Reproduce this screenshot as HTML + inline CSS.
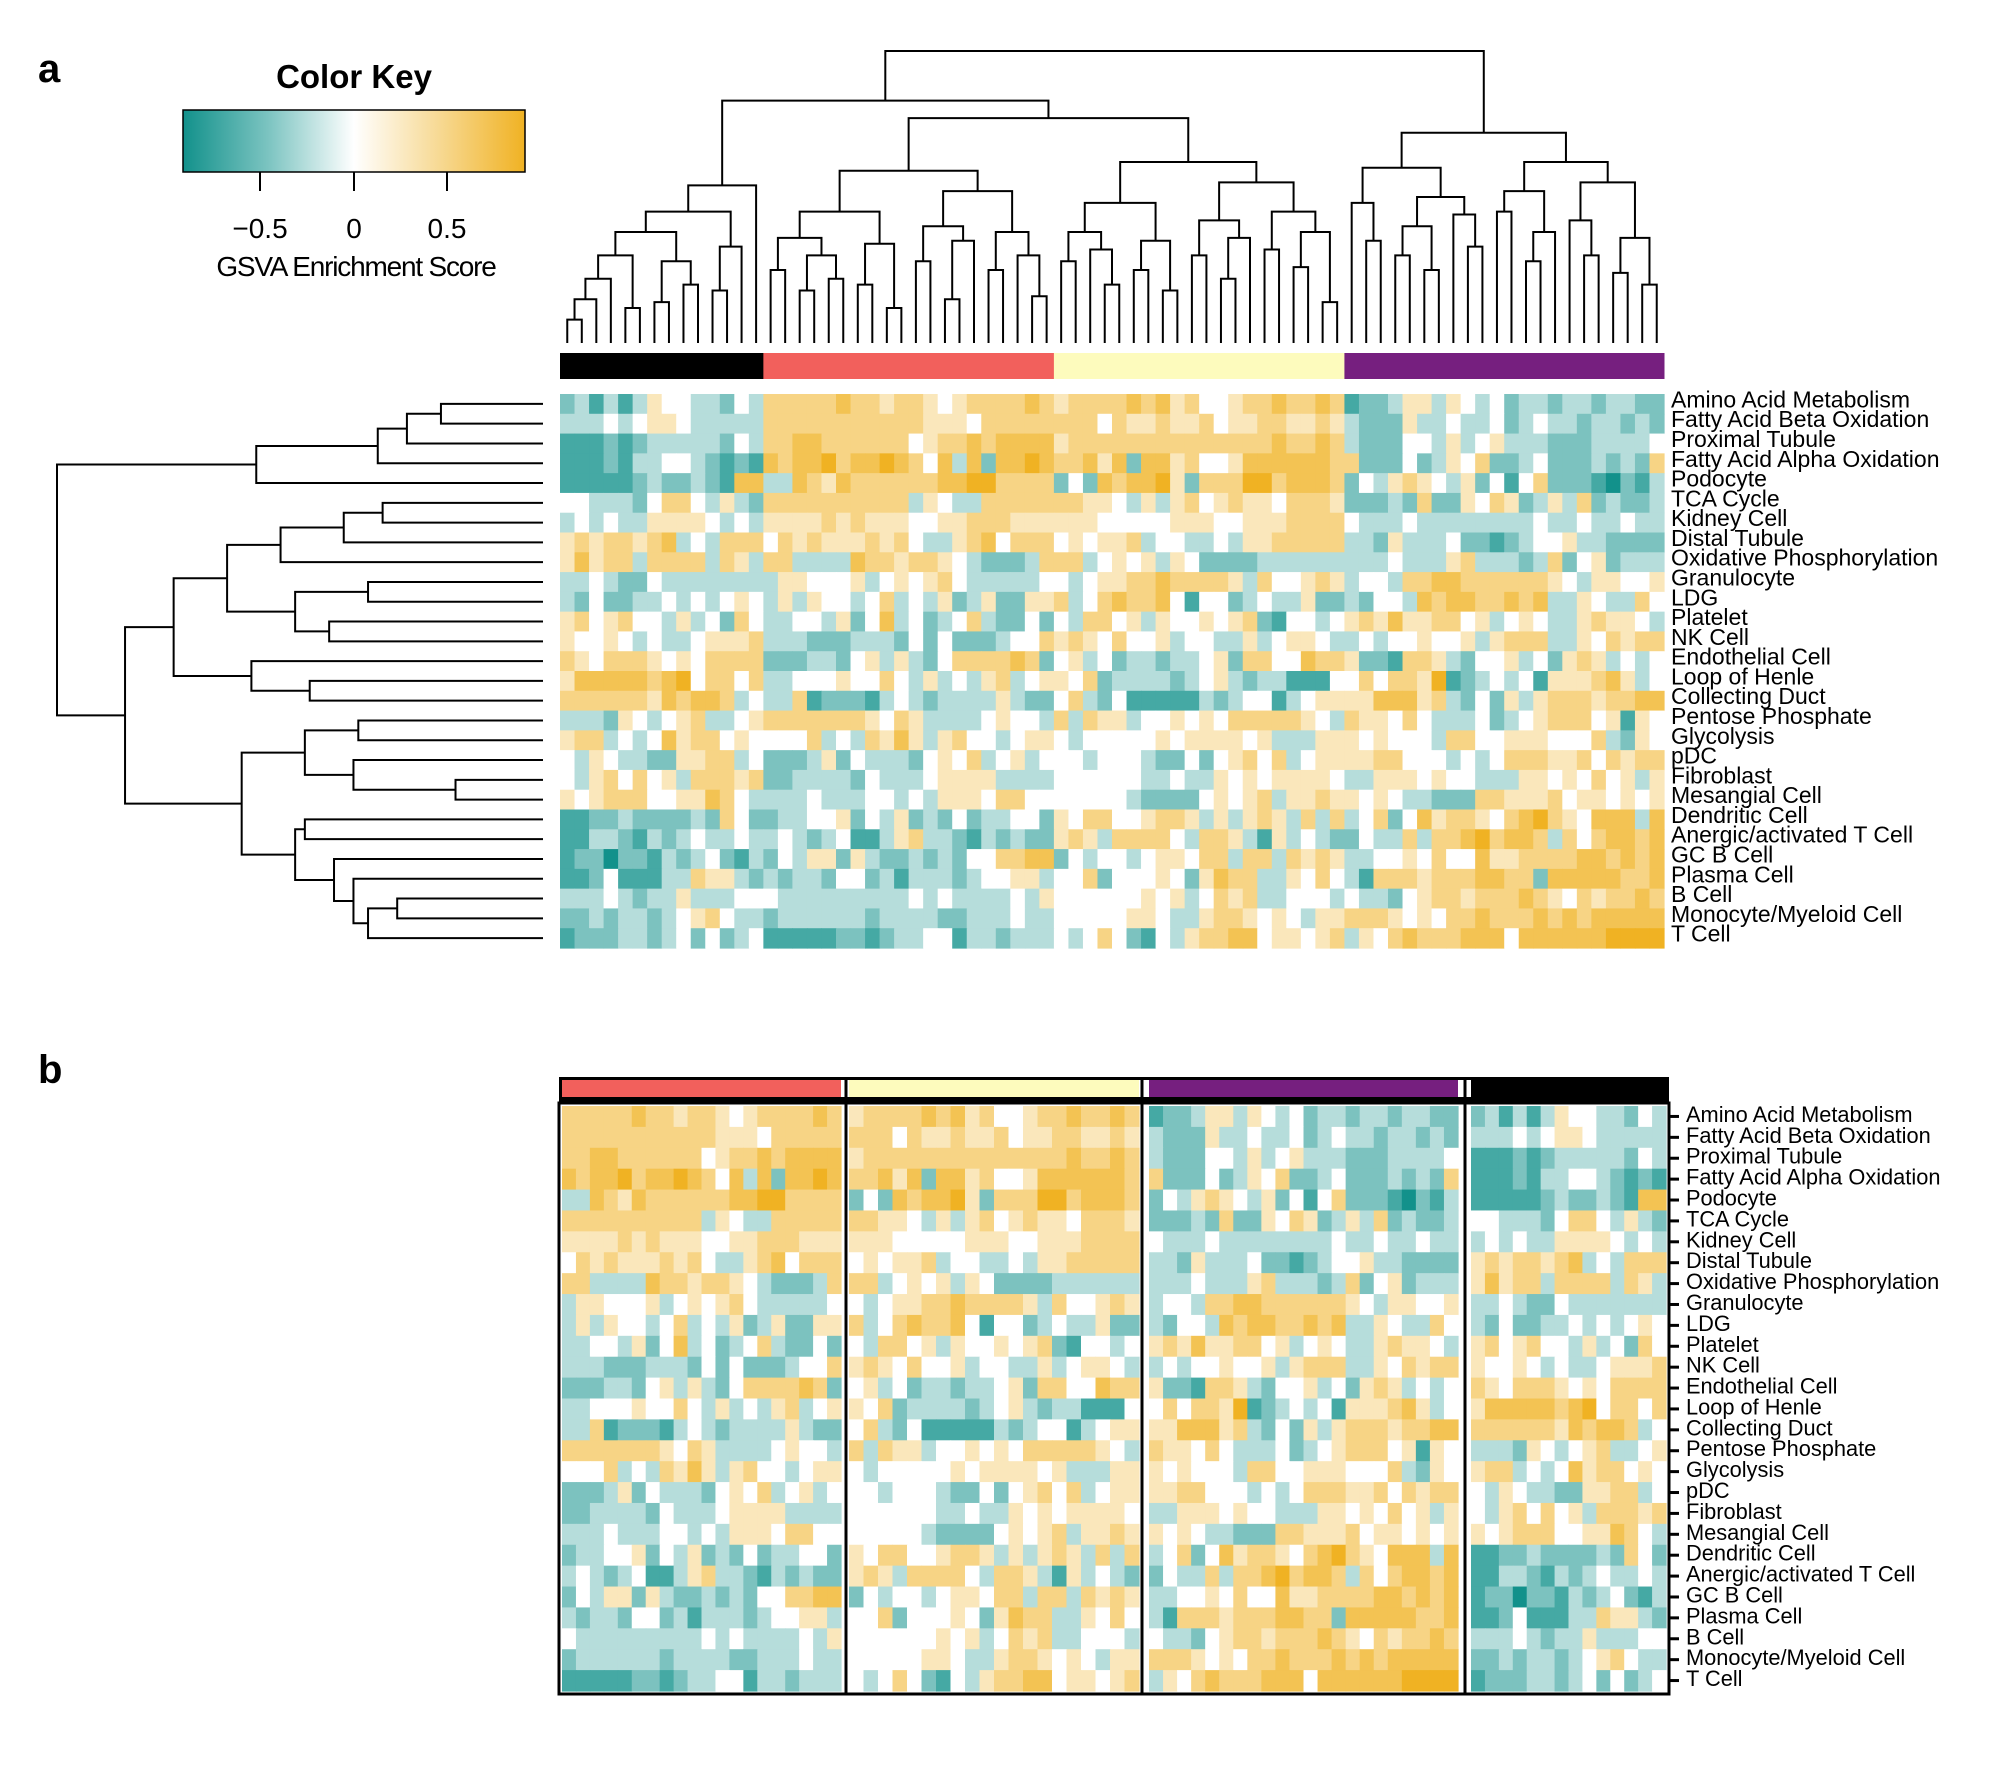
<!DOCTYPE html>
<html><head><meta charset="utf-8"><title>GSVA heatmap</title>
<style>
html,body{margin:0;padding:0;background:#fff;}
svg{display:block;font-family:"Liberation Sans",Arial,sans-serif;}
</style></head>
<body>
<svg id="fig" width="2000" height="1792" viewBox="0 0 2000 1792" xmlns="http://www.w3.org/2000/svg">
<defs>
<linearGradient id="keygrad" x1="0" x2="1" y1="0" y2="0">
<stop offset="0" stop-color="#12918b"/>
<stop offset="0.25" stop-color="#7cc4c1"/>
<stop offset="0.5" stop-color="#ffffff"/>
<stop offset="0.75" stop-color="#f7d993"/>
<stop offset="1" stop-color="#f0b223"/>
</linearGradient>
</defs>
<text x="38" y="82" font-size="40" font-weight="bold">a</text>
<text x="38" y="1083" font-size="40" font-weight="bold">b</text>
<g>
<text x="354" y="88" font-size="33" font-weight="bold" text-anchor="middle">Color Key</text>
<rect x="183" y="110" width="342" height="62" fill="url(#keygrad)" stroke="#000" stroke-width="1.5"/>
<line x1="260" y1="172" x2="260" y2="191" stroke="#000" stroke-width="2"/>
<line x1="354" y1="172" x2="354" y2="191" stroke="#000" stroke-width="2"/>
<line x1="447" y1="172" x2="447" y2="191" stroke="#000" stroke-width="2"/>
<text x="260" y="238" font-size="28" text-anchor="middle">−0.5</text>
<text x="354" y="238" font-size="28" text-anchor="middle">0</text>
<text x="447" y="238" font-size="28" text-anchor="middle">0.5</text>
<text x="356" y="276" font-size="28" text-anchor="middle" letter-spacing="-1.2">GSVA Enrichment Score</text>
</g>
<g id="pa"></g>
<g id="pad"></g>
<g id="prd"></g>
<g id="pb"></g>
</svg>
<script>
const rowLabels = ["Amino Acid Metabolism","Fatty Acid Beta Oxidation","Proximal Tubule","Fatty Acid Alpha Oxidation","Podocyte","TCA Cycle","Kidney Cell","Distal Tubule","Oxidative Phosphorylation","Granulocyte","LDG","Platelet","NK Cell","Endothelial Cell","Loop of Henle","Collecting Duct","Pentose Phosphate","Glycolysis","pDC","Fibroblast","Mesangial Cell","Dendritic Cell","Anergic/activated T Cell","GC B Cell","Plasma Cell","B Cell","Monocyte/Myeloid Cell","T Cell"];
const groupNames = ["black","red","yellow","purple"];
const groupSizes = [14,20,20,22];
const groupColors = ["#000000","#f2605c","#fdfbbd","#761f7f"];
// digit codes 0..8 : 0 = strongest negative, 4 = zero, 8 = strongest positive
const scoreRows = [
"23131354433243"+"66666766566545666676"+"56666767564456676676"+"1223553543423323323322",
"33343455433333"+"66666666666555466666"+"66646556556455665565"+"3222533433423433233232",
"11121233333243"+"66776666664566767777"+"56666666666666676676"+"3222443534533322233334",
"11121334432121"+"76778677876473727787"+"66757277564457777776"+"6222423546223422232326",
"11111232232177"+"33765766666677886666"+"24276778526668867776"+"2435654352414622210213",
"44333246643532"+"66666666663543366666"+"66554353564565546665"+"2223262254652353623223",
"34343355554343"+"55556565554455666555"+"55544444555445556666"+"4333433333333433433433",
"56566567343666"+"46565556564335674666"+"45455634433435566666"+"3325333422123445332222",
"57566366663653"+"66333376656654322236"+"66345453542222333333"+"3334333563332362452333",
"33432243333333"+"35544453454564333334"+"43455667666653644565"+"3443667766666654355445",
"32422334343454"+"35354434634352352255"+"63467667414423433522"+"3244376776676733543364",
"56456443534264"+"33443524734234632242"+"43664535445456214434"+"5657556645345433565543",
"54454343345556"+"33322233324242223446"+"56546445344335345543"+"3434454453566633546566",
"65466654546666"+"22233245353246666762"+"45342"+"3323345266447665221665324453425653434",
"57777767846646"+"33444544643534356345"+"54623"+"3332345323311144646658123434155567534",
"66666657677634"+"33612221343233335322"+"46324"+"1111132344134555577756324253566656677",
"33325434563345"+"66666665465333345443"+"63655"+"3445454666665436554643334234566645154",
"56634347566454"+"44463436575356443455"+"43444"+"4454555545333555454443664455544463254",
"43543322556634"+"22235243332454634534"+"44344"+"4322424564634555566444343466655646566",
"43564645366656"+"22333324333455553333"+"44444"+"4334335454555543355545443335545464535",
"54566644557643"+"33343334434355546644"+"44444"+"3222245456355655454332226655564554545",
"11223222232642"+"23344524352324233442"+"54664"+"4566535356536363462475665467865477737",
"11332132343343"+"34323411356332132322"+"56536"+"6664366531534322433636678677636467767",
"12202213234213"+"24355253223232446677"+"24344"+"3455466366365653344546447556666776767",
"11241113365532"+"32332442313332344553"+"44624"+"4454257663354643166656667766277777667",
"33343233533344"+"43333333334343333435"+"44444"+"4545346563344434332456656667654656676",
"22323323456433"+"23333332333322333433"+"44444"+"5543356654543556665454667666767677777",
"12223323424234"+"11111221233441332333"+"43464"+"2143566774554563546766677747777778888"
];
// column dendrogram: [height, left, right]; leaves = column index
const colTree = [100,
  [83,
    [54,[45,[38,[30,[22,[15,[8,0,1],2],3],[12,4,5]],[28,[14,6,7],[20,8,9]]],[33,[18,10,11],12]],13],
    [77,
      [59,[45,[36,[25,14,15],[30,[18,16,17],[22,18,19]]],[34,[20,20,21],[12,22,23]]],[52,[40,[28,24,25],[35,[15,26,27],28]],[38,[25,29,30],[30,31,[16,32,33]]]]],
      [62,[48,[38,[28,34,35],[32,36,[20,37,38]]],[35,[25,39,40],[18,41,42]]],[55,[42,[30,43,44],[36,[22,45,46],47]],[45,[32,48,49],[38,[26,50,51],[14,52,53]]]]]
    ]
  ],
  [72,[60,[48,54,[35,55,56]],[50,[40,[30,57,58],[25,59,60]],[44,61,[33,62,63]]]],[62,[52,[45,64,65],[38,[28,66,67],68]],[55,[42,69,[30,70,71]],[36,[24,72,73],[20,74,75]]]]]
];
// row dendrogram: [height, top, bottom]; leaves = row index
const rowTree = [100,
  [59,[34,[28,[21,0,1],2],3],4],
  [86,
    [76,[65,[54,[41,[33,5,6],7],8],[51,[36,9,10],[44,11,12]]],[60,13,[48,14,15]]],
    [62,[49,[38,16,17],[39,18,[18,19,20]]],[51,[49,21,22],[43,23,[39,24,[36,[30,25,26],27]]]]]
  ]
];
const panelBOrder = [1,2,3,0]; // group order in panel b: red, yellow, purple, black

const NS = "http://www.w3.org/2000/svg";
function mk(tag, attrs, parent){
  const el = document.createElementNS(NS, tag);
  for (const k in attrs) el.setAttribute(k, attrs[k]);
  parent.appendChild(el);
  return el;
}
function val(r,c){
  const s = scoreRows[r];
  const ch = c < s.length ? s.charCodeAt(c)-48 : 4;
  return (ch-4)/4*0.85;
}
function colorOf(v){
  const t = Math.max(-1, Math.min(1, v/0.85));
  const end = t<0 ? [18,145,139] : [240,178,35];
  const a = Math.pow(Math.abs(t), 0.85);
  const m = i => Math.round(255 + (end[i]-255)*a);
  return "rgb("+m(0)+","+m(1)+","+m(2)+")";
}
const nCols = groupSizes.reduce((a,b)=>a+b,0);
const nRows = rowLabels.length;

// ---------- Panel A ----------
const pa = document.getElementById("pa");
const AX0=560, AX1=1664, AY0=394, AY1=948;
const acw=(AX1-AX0)/nCols, arh=(AY1-AY0)/nRows;
const colX = c => AX0 + acw*(c+0.5);
const rowY = r => AY0 + arh*(r+0.5);
let start=0;
groupSizes.forEach((n,g)=>{
  const el = mk("rect",{x:AX0+start*acw,y:353,width:n*acw+0.5,height:26,fill:groupColors[g]},pa);
  
  
  start+=n;
});
for(let r=0;r<nRows;r++){
  for(let c=0;c<nCols;c++){
    const el = mk("rect",{x:AX0+c*acw,y:AY0+r*arh,width:acw+0.6,height:arh+0.6,fill:colorOf(val(r,c))},pa);
    
    
  }
  const t = mk("text",{x:1671,y:rowY(r)+3.5,"font-size":23},pa);
  t.textContent = rowLabels[r];
  
  
}
// column dendrogram
const pad = document.getElementById("pad");
const dY = h => 343 - h*2.92;
function drawCol(node){
  if (typeof node === "number") return {p:colX(node), h:0};
  const L = drawCol(node[1]), R = drawCol(node[2]);
  const y = dY(node[0]);
  const el = mk("path",{d:"M"+L.p+","+dY(L.h)+"V"+y+"H"+R.p+"V"+dY(R.h),fill:"none",stroke:"#000","stroke-width":2},pad);
  
  
  return {p:(L.p+R.p)/2, h:node[0]};
}
drawCol(colTree);
// row dendrogram
const prd = document.getElementById("prd");
const dX = h => 543 - h*4.86;
function drawRow(node){
  if (typeof node === "number") return {p:rowY(node), h:0};
  const T = drawRow(node[1]), B = drawRow(node[2]);
  const x = dX(node[0]);
  const el = mk("path",{d:"M"+dX(T.h)+","+T.p+"H"+x+"V"+B.p+"H"+dX(B.h),fill:"none",stroke:"#000","stroke-width":2},prd);
  
  
  return {p:(T.p+B.p)/2, h:node[0]};
}
drawRow(rowTree);

// ---------- Panel B ----------
const pb = document.getElementById("pb");
const BY0=1106, BY1=1691;
const brh=(BY1-BY0)/nRows;
const bSpans = [[562,841],[849,1139],[1149,1458],[1471,1666]]; // per panel-b slot
const sepX = [846,1142,1465];
const cbFrame = mk("rect",{x:559,y:1077,width:1110,height:25,fill:"#000"},pb);


const cbInner = mk("rect",{x:562,y:1080,width:1104,height:17,fill:"#fff"},pb);


const hmFrame = mk("rect",{x:559,y:1103,width:1110,height:591,fill:"#fff",stroke:"#000","stroke-width":3},pb);


const groupStart = [];
let acc=0; groupSizes.forEach(n=>{groupStart.push(acc); acc+=n;});
panelBOrder.forEach((g,slot)=>{
  const [x0,x1] = bSpans[slot];
  const n = groupSizes[g], w=(x1-x0)/n;
  const gb = mk("rect",{x:x0,y:1080,width:x1-x0,height:17,fill:groupColors[g]},pb);
  
  
  for(let r=0;r<nRows;r++){
    for(let k=0;k<n;k++){
      const c = groupStart[g]+k;
      const el = mk("rect",{x:x0+k*w,y:BY0+r*brh,width:w+0.6,height:brh+0.6,fill:colorOf(val(r,c))},pb);
      
      
    }
  }
});
sepX.forEach(x=>{
  const el = mk("line",{x1:x,y1:1077,x2:x,y2:1694,stroke:"#000","stroke-width":3},pb);
  
  
});
for(let r=0;r<nRows;r++){
  const y = BY0 + brh*(r+0.5);
  const tk = mk("line",{x1:1668,y1:y,x2:1679,y2:y,stroke:"#000","stroke-width":3},pb);
  
  
  const t = mk("text",{x:1686,y:y+5.5,"font-size":21.8},pb);
  t.textContent = rowLabels[r];
  
  
}
</script>
</body></html>
